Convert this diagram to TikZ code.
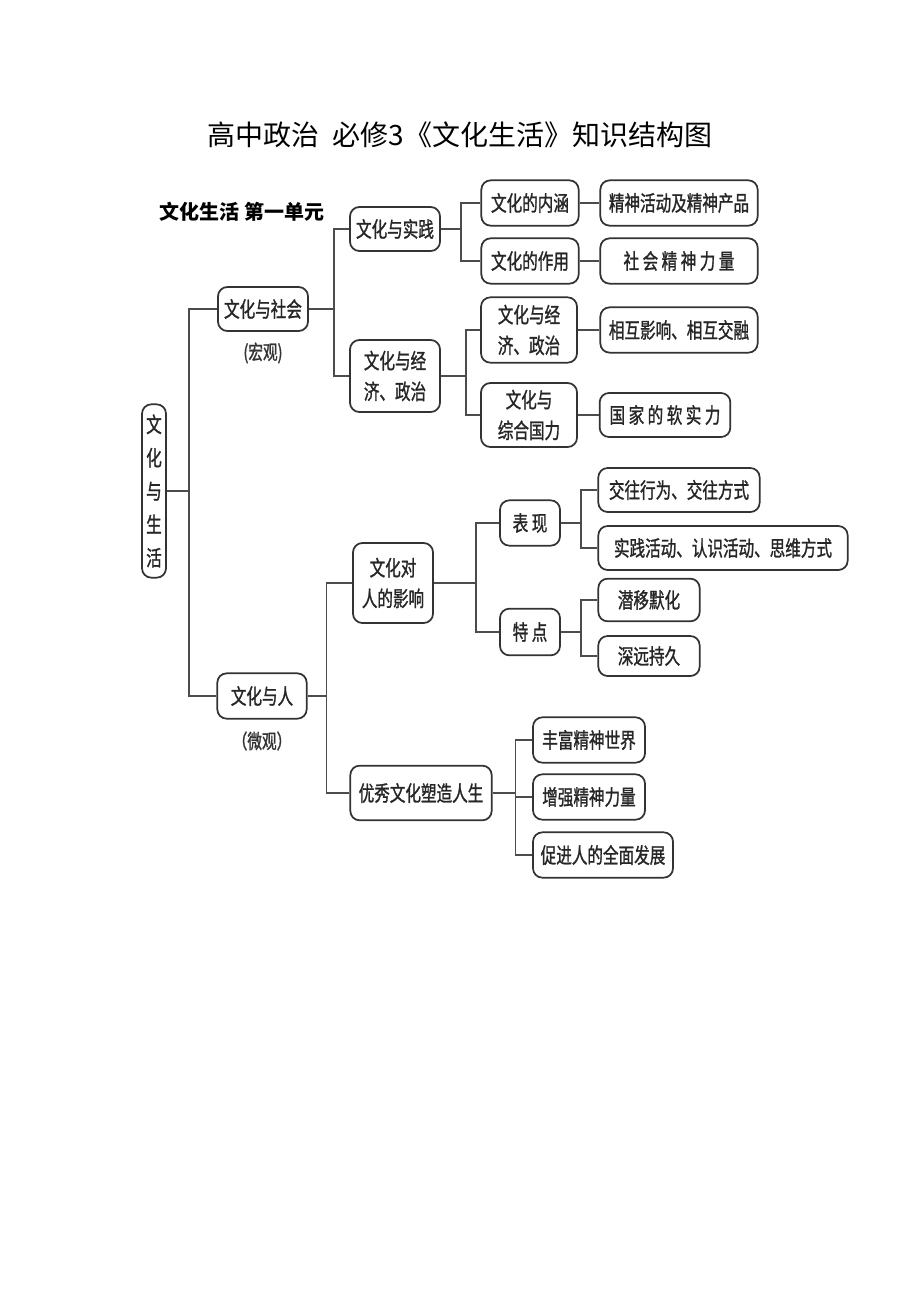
\documentclass[tikz,border=0pt]{standalone}
\usepackage{fontspec}
\newfontfamily\cjk{Noto Sans CJK SC}[FakeStretch=0.73, FakeBold=1.2]
\newfontfamily\cjkwide{Noto Sans CJK SC}
\tikzset{
  box/.style={draw=black!80, line width=1.3pt, rounded corners=7pt, fill=white,
    inner sep=1pt, align=center, text=black!85,
    font=\cjk\fontsize{16}{23}\selectfont},
  link/.style={draw=black!70, line width=1.1pt},
  note/.style={text=black!80, font=\cjk\fontsize{15}{18}\selectfont},
}

\begin{document}
\begin{tikzpicture}[x=0.75pt, y=-0.75pt]
	\useasboundingbox[fill=white] (0,0) rectangle (920,1302);

	% titles
	\node[font=\cjkwide\fontsize{21}{24}\selectfont] (title) at (460,135) {高中政治\ \ 必修3《文化生活》知识结构图};
	\node[font=\cjkwide\bfseries\fontsize{15}{18}\selectfont] (unit) at (242,212) {文化生活 第一单元};

	% root
	\node[box, minimum width=18pt, minimum height=130pt, font=\cjk\fontsize{16}{25}\selectfont] (root) at (154,491) {文\\化\\与\\生\\活};

	% macro side
	\node[box, minimum width=67.5pt, minimum height=33pt] (soc) at (263,309) {文化与社会};
	\node[note] (hong) at (263,353) {(宏观)};
	\node[box, minimum width=67.5pt, minimum height=33pt] (prac) at (395,229) {文化与实践};
	\node[box, minimum width=67.5pt, minimum height=54pt] (ecopol) at (395,376) {文化与经\\济、政治};
	\node[box, minimum width=73pt, minimum height=34pt] (neihan) at (530,203) {文化的内涵};
	\node[box, minimum width=73pt, minimum height=34pt] (zuoyong) at (530,261) {文化的作用};
	\node[box, minimum width=118pt, minimum height=34pt] (chanpin) at (679,203) {精神活动及精神产品};
	\node[box, minimum width=118pt, minimum height=34pt] (liliang) at (679,261) {社 会 精 神 力 量};
	\node[box, minimum width=72pt, minimum height=49pt] (jjzz) at (529,330) {文化与经\\济、政治};
	\node[box, minimum width=72pt, minimum height=48pt] (guoli) at (529,415) {文化与\\综合国力};
	\node[box, minimum width=118pt, minimum height=34pt] (jiaorong) at (679,330) {相互影响、相互交融};
	\node[box, minimum width=98pt, minimum height=33pt] (ruan) at (665,415) {国 家 的 软 实 力};

	% micro side
	\node[box, minimum width=67pt, minimum height=34pt] (man) at (262,696) {文化与人};
	\node[note] (wei) at (262,741) {（微观）};
	\node[box, minimum width=60pt, minimum height=60pt] (influ) at (393,583) {文化对\\人的影响};
	\node[box, minimum width=106pt, minimum height=41pt] (suzao) at (421,793) {优秀文化塑造人生};
	\node[box, minimum width=45pt, minimum height=34pt] (biao) at (530,523) {表 现};
	\node[box, minimum width=45pt, minimum height=35pt] (tedian) at (530,632) {特 点};
	\node[box, minimum width=121pt, minimum height=33pt] (jiaowang) at (679,490) {交往行为、交往方式};
	\node[box, minimum width=187pt, minimum height=33pt] (shijian) at (723,548) {实践活动、认识活动、思维方式};
	\node[box, minimum width=76pt, minimum height=32pt] (qianyi) at (649,600) {潜移默化};
	\node[box, minimum width=76pt, minimum height=30pt] (shenyuan) at (649,656) {深远持久};
	\node[box, minimum width=84pt, minimum height=34pt] (fengfu) at (589,740) {丰富精神世界};
	\node[box, minimum width=84pt, minimum height=34pt] (zengqiang) at (589,797) {增强精神力量};
	\node[box, minimum width=105pt, minimum height=34pt] (cujin) at (603,855) {促进人的全面发展};

	% elbow links
	\foreach \a/\d/\b in {root/22/soc, root/22/man, soc/25/prac, soc/25/ecopol,
	    prac/20/neihan, prac/20/zuoyong, ecopol/25/jjzz, ecopol/25/guoli,
	    man/19/influ, man/19/suzao, influ/42/biao, influ/42/tedian,
	    biao/20/jiaowang, biao/20/shijian, tedian/20/qianyi, tedian/20/shenyuan,
	    suzao/23/fengfu, suzao/23/zengqiang, suzao/23/cujin}
	  \draw[link] (\a.east) -- ++(\d,0) |- (\b.west);

	% straight links
	\foreach \a/\b in {neihan/chanpin, zuoyong/liliang, jjzz/jiaorong, guoli/ruan}
	  \draw[link] (\a.east) -- (\b.west);
\end{tikzpicture}
\end{document}
